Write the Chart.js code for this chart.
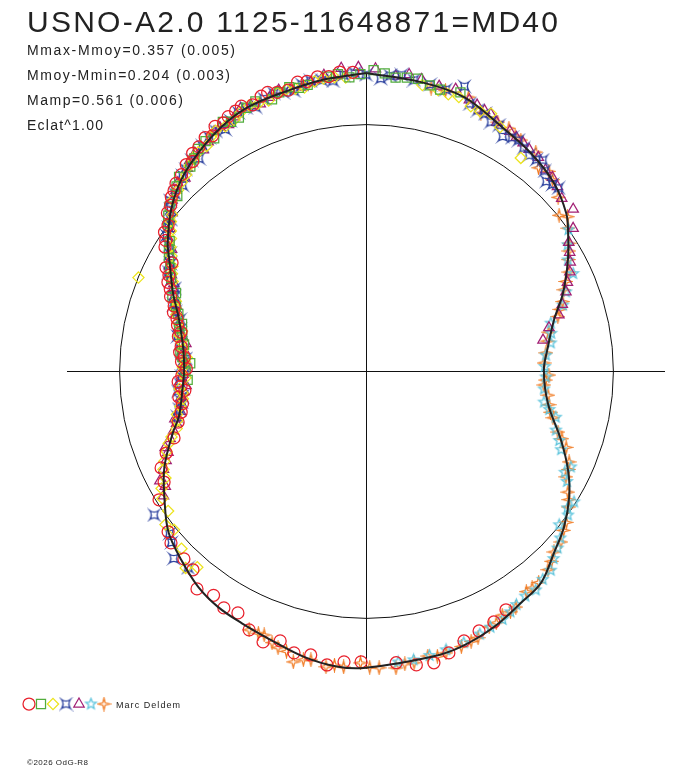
<!DOCTYPE html>
<html>
<head>
<meta charset="utf-8">
<title>USNO-A2.0 1125-11648871=MD40</title>
<script src="https://cdn.jsdelivr.net/npm/chart.js@4.4.1/dist/chart.umd.min.js"></script>
<style>
html, body { margin: 0; padding: 0; background: #fff; }
#wrap { width: 688px; height: 768px; }
</style>
</head>
<body>
<div id="wrap"><canvas id="myChart" width="688" height="768"></canvas></div>
<script>
/*global Chart*/

// texts
var titleText = "USNO-A2.0 1125-11648871=MD40";
var statLines = ["Mmax-Mmoy=0.357 (0.005)", "Mmoy-Mmin=0.204 (0.003)", "Mamp=0.561 (0.006)", "Eclat^1.00"];
var observerName = "Marc Deldem";
var creditText = "\u00a92026 OdG-R8";

// fitted light curve: phase, magnitude relative to mean
var curvePhase = [0.000,0.030,0.055,0.080,0.103,0.125,0.144,0.155,0.170,0.190,0.208,0.229,0.249,0.278,0.304,0.3225,0.338,0.356,0.3725,0.390,0.406,0.426,0.447,0.464,0.500,
    0.515,0.534,0.554,0.573,0.589,0.605,0.623,0.641,0.659,0.679,0.701,0.712,0.731,0.751,0.771,0.7925,0.811,0.832,0.841,0.860,0.8775,0.8955,0.915,0.933,0.953,0.976,1.000];
var curveMag = [-0.204,-0.190,-0.178,-0.135,-0.110,-0.080,-0.034,0.011,0.075,0.166,0.258,0.322,0.356,0.315,0.193,0.101,0.036,-0.022,-0.063,-0.116,-0.132,-0.160,-0.181,-0.187,-0.200,
    -0.201,-0.184,-0.157,-0.141,-0.131,-0.111,-0.074,-0.035,0.033,0.108,0.215,0.270,0.312,0.332,0.316,0.263,0.186,0.096,0.050,-0.026,-0.080,-0.117,-0.151,-0.171,-0.177,-0.191,-0.204];

// observation series (phase, magnitude relative to mean)
var redPhase = [0.4156,0.425,0.4347,0.4446,0.4545,0.4636,0.473,0.4836,0.5027,0.512,0.521,0.5306,0.5398,0.549,0.5578,0.5675,0.5775,0.586,0.595,0.605,
    0.614,0.6225,0.635,0.6414,0.6614,0.670,0.6797,0.688,0.6966,0.7078,0.715,0.728,0.737,0.746,0.758,0.766,0.779,0.788,0.797,0.808,
    0.817,0.826,0.838,0.846,0.857,0.866,0.874,0.886,0.893,0.904,0.912,0.921,0.930,0.942,0.951,0.963,0.974,0.986,
    0.722,0.733,0.741,0.752,0.762,0.771,0.783,0.793,0.802,0.813,0.822,0.831,0.842,0.851,0.862,0.870,0.880,0.890,0.898,0.908,
    0.917,0.926,0.936,0.946,0.957,0.968,0.980,0.993];
var redMag = [-0.124,-0.143,-0.150,-0.164,-0.189,-0.210,-0.205,-0.187,-0.178,-0.181,-0.199,-0.172,-0.178,-0.149,-0.174,-0.152,-0.112,-0.122,-0.102,-0.120,
    -0.071,-0.063,-0.056,-0.035,0.014,0.075,0.093,0.145,0.211,0.258,0.288,0.290,0.310,0.318,0.315,0.300,0.280,0.262,0.222,0.180,
    0.140,0.100,0.048,0.010,-0.030,-0.060,-0.085,-0.112,-0.130,-0.150,-0.165,-0.172,-0.185,-0.190,-0.184,-0.200,-0.205,-0.212,
    0.305,0.330,0.295,0.345,0.330,0.305,0.290,0.250,0.215,0.165,0.130,0.115,0.035,0.005,-0.040,-0.070,-0.095,-0.105,-0.135,-0.140,
    -0.160,-0.178,-0.172,-0.195,-0.180,-0.195,-0.200,-0.208];

var greenPhase = [0.742,0.757,0.765,0.773,0.781,0.790,0.802,0.812,0.821,0.833,0.843,0.852,0.861,0.869,0.878,0.887,0.897,0.908,0.917,0.926,
    0.938,0.947,0.958,0.968,0.979,0.991,0.004,0.016,0.028,0.041,0.052,
    0.750,0.762,0.786,0.797,0.808,0.827,0.838,0.856,0.873,0.892,0.903,0.921,0.932,0.952,0.963,0.985,0.997,0.010,0.022,0.035];
var greenMag = [0.352,0.368,0.305,0.320,0.300,0.285,0.225,0.200,0.145,0.090,0.052,0.000,-0.040,-0.045,-0.095,-0.095,-0.130,-0.128,-0.165,-0.150,
    -0.180,-0.165,-0.190,-0.182,-0.200,-0.190,-0.215,-0.193,-0.200,-0.178,-0.190,
    0.340,0.318,0.275,0.250,0.190,0.120,0.070,-0.020,-0.075,-0.110,-0.138,-0.150,-0.172,-0.182,-0.178,-0.205,-0.200,-0.205,-0.198,-0.185];

var yellowPhase = [0.613,0.628,0.640,0.652,0.661,0.672,0.683,0.694,0.703,0.714,0.726,0.735,0.744,0.753,0.762,0.775,0.784,0.796,0.806,0.812,
    0.819,0.829,0.840,0.849,0.858,0.872,0.882,0.891,0.902,0.911,0.923,0.934,0.945,0.956,0.966,0.977,0.989,0.031,0.046,0.060,0.072,0.100,
    0.618,0.646,0.667,0.678,0.689,0.698,0.709,0.720,0.731,0.748,0.758,0.769,0.780,0.790,0.801,0.824,0.835,0.845,0.854,0.865,
    0.877,0.887,0.896,0.907,0.917,0.928,0.939,0.951,0.961,0.972,0.983,0.040,0.052,0.066,0.080];
var yellowMag = [-0.051,-0.040,-0.010,0.020,0.030,0.090,0.120,0.175,0.240,0.262,0.312,0.300,0.340,0.325,0.345,0.300,0.295,0.240,0.215,0.004,
    0.160,0.125,0.070,0.030,-0.010,-0.060,-0.082,-0.115,-0.120,-0.150,-0.150,-0.175,-0.165,-0.185,-0.175,-0.195,-0.190,-0.180,-0.170,-0.155,-0.160,-0.070,
    -0.085,-0.025,0.050,0.100,0.150,0.200,0.255,0.290,0.315,0.320,0.335,0.318,0.285,0.260,0.225,0.140,0.095,0.050,0.005,-0.048,
    -0.072,-0.100,-0.120,-0.140,-0.145,-0.165,-0.168,-0.180,-0.178,-0.190,-0.195,-0.175,-0.172,-0.150,-0.130];

var bluePhase = [0.617,0.627,0.635,0.655,0.712,0.724,0.733,0.745,0.756,0.768,0.779,0.793,0.803,0.815,0.824,0.836,0.845,0.855,0.864,0.876,
    0.884,0.894,0.906,0.916,0.927,0.937,0.949,0.960,0.970,0.982,0.994,0.008,0.019,0.035,0.053,0.0645,0.074,0.084,0.093,0.103,0.111,0.121,0.129,
    0.640,0.718,0.728,0.739,0.750,0.761,0.773,0.785,0.798,0.809,0.819,0.830,0.840,0.850,0.860,0.869,0.880,0.890,0.900,0.911,
    0.921,0.932,0.943,0.954,0.965,0.976,0.988,0.000,0.013,0.026,0.044,0.059,0.069,0.079,0.089,0.098,0.108,0.116,0.125];
var blueMag = [-0.078,-0.091,-0.053,-0.040,0.262,0.300,0.290,0.318,0.322,0.310,0.275,0.268,0.210,0.185,0.122,0.085,0.025,0.000,-0.055,-0.060,
    -0.100,-0.098,-0.142,-0.135,-0.168,-0.160,-0.185,-0.172,-0.195,-0.182,-0.205,-0.185,-0.205,-0.188,-0.216,-0.152,-0.131,-0.103,-0.124,-0.099,-0.118,-0.063,-0.080,
    -0.035,0.280,0.312,0.305,0.335,0.340,0.298,0.282,0.232,0.200,0.148,0.110,0.062,0.012,-0.030,-0.058,-0.090,-0.112,-0.130,-0.148,
    -0.155,-0.172,-0.178,-0.178,-0.188,-0.190,-0.200,-0.198,-0.198,-0.193,-0.184,-0.162,-0.150,-0.135,-0.118,-0.110,-0.103,-0.090,-0.072];

var purplePhase = [0.662,0.672,0.683,0.692,0.702,0.711,0.721,0.732,0.741,0.752,0.763,0.774,0.786,0.798,0.809,0.818,0.828,0.839,0.850,0.859,
    0.871,0.880,0.889,0.899,0.910,0.919,0.929,0.940,0.952,0.965,0.9775,0.987,0.996,0.005,0.030,0.040,0.049,0.058,0.068,0.077,
    0.086,0.096,0.108,0.116,0.128,0.1445,0.154,0.166,0.178,0.190,0.205,0.213,0.2225,
    0.667,0.678,0.688,0.697,0.707,0.716,0.727,0.737,0.747,0.758,0.768,0.780,0.792,0.803,0.814,0.823,0.834,0.844,0.855,0.865,
    0.875,0.885,0.894,0.904,0.914,0.924,0.935,0.946,0.958,0.970,0.982,0.016,0.023,0.063,0.072,0.091,0.101,0.122,0.135,0.160,
    0.172,0.184,0.198];
var purpleMag = [0.040,0.060,0.130,0.150,0.220,0.245,0.300,0.325,0.305,0.345,0.310,0.330,0.270,0.245,0.200,0.170,0.110,0.080,0.020,-0.015,
    -0.065,-0.075,-0.115,-0.115,-0.150,-0.145,-0.178,-0.165,-0.190,-0.178,-0.207,-0.225,-0.225,-0.220,-0.200,-0.190,-0.196,-0.175,-0.160,-0.140,
    -0.135,-0.125,-0.115,-0.095,-0.080,-0.068,-0.020,0.050,0.093,0.150,0.224,0.296,0.345,
    0.070,0.100,0.155,0.190,0.248,0.285,0.300,0.340,0.325,0.330,0.325,0.300,0.255,0.225,0.178,0.140,0.090,0.040,-0.005,-0.050,
    -0.082,-0.098,-0.125,-0.130,-0.152,-0.160,-0.172,-0.175,-0.180,-0.190,-0.195,-0.198,-0.210,-0.168,-0.158,-0.128,-0.118,-0.092,-0.060,0.030,
    0.070,0.125,0.190];

var cyanPhase = [0.153,0.170,0.180,0.1986,0.2097,0.226,0.236,0.2553,0.266,0.2775,0.288,0.298,0.311,0.3197,0.330,0.3394,0.3486,0.357,0.3687,0.381,
    0.395,0.409,0.420,0.435,0.4555,0.474,0.4825,
    0.161,0.190,0.218,0.246,0.283,0.305,0.325,0.345,0.363,0.375,0.388,0.402,0.414,0.428,0.445,0.465];
var cyanMag = [0.000,0.075,0.082,0.188,0.279,0.302,0.339,0.343,0.350,0.339,0.254,0.235,0.174,0.095,0.080,0.005,-0.005,0.000,-0.060,-0.104,
    -0.125,-0.128,-0.150,-0.162,-0.175,-0.185,-0.185,
    0.040,0.150,0.290,0.350,0.300,0.200,0.110,0.015,-0.040,-0.078,-0.110,-0.120,-0.140,-0.155,-0.170,-0.180];

var orangePhase = [0.036,0.057,0.0667,0.0775,0.0847,0.094,0.105,0.112,0.123,0.133,0.142,0.152,0.1606,0.170,0.1778,0.188,0.196,0.206,0.2167,0.234,
    0.2428,0.2535,0.2625,0.271,0.279,0.289,0.299,0.308,0.317,0.3275,0.336,0.344,0.353,0.3646,0.372,0.382,0.391,0.400,0.410,0.419,
    0.4286,0.4367,0.447,0.456,0.466,0.474,0.484,0.493,0.503,0.512,0.5214,0.530,0.539,0.549,0.5586,0.5675,
    0.044,0.090,0.118,0.146,0.165,0.183,0.201,0.224,0.258,0.285,0.303,0.322,0.340,0.358,0.377,0.396,0.414,0.424,0.441,0.461,
    0.479,0.498,0.517,0.534,0.544,0.553,0.562];
var orangeMag = [-0.176,-0.184,-0.146,-0.143,-0.143,-0.129,-0.125,-0.083,-0.086,-0.052,-0.005,-0.002,0.031,0.071,0.097,0.156,0.183,0.232,0.302,0.338,
    0.354,0.326,0.353,0.322,0.307,0.269,0.221,0.154,0.113,0.095,0.052,0.012,-0.018,-0.053,-0.060,-0.095,-0.109,-0.108,-0.135,-0.135,
    -0.152,-0.172,-0.181,-0.186,-0.181,-0.196,-0.206,-0.201,-0.182,-0.200,-0.206,-0.190,-0.211,-0.176,-0.148,-0.152,
    -0.180,-0.130,-0.100,-0.030,0.050,0.130,0.210,0.320,0.345,0.290,0.190,0.100,0.030,-0.030,-0.080,-0.110,-0.140,-0.150,-0.175,-0.190,
    -0.195,-0.198,-0.196,-0.195,-0.180,-0.165,-0.150];

// phase clockwise from top, radius = relative brightness (Eclat^1)
function toXY(phases, mags) {
    return phases.map(function(p, i) {
        var f = Math.pow(10, -0.4 * mags[i]);
        var a = 2 * Math.PI * p;
        return { x: f * Math.sin(a), y: f * Math.cos(a) };
    });
}

// small outline markers the library doesn't have
function makeMarker(kind, color) {
    var c = document.createElement("canvas");
    c.width = 15; c.height = 15;
    var g = c.getContext("2d");
    g.strokeStyle = color;
    g.lineWidth = 1.25;
    g.translate(7.5, 7.5);
    g.beginPath();
    var i, a, r;
    if (kind === "astroid") {
        var s = 4.5;
        g.moveTo(-s, -s);
        g.quadraticCurveTo(0, -1.2, s, -s);
        g.quadraticCurveTo(1.2, 0, s, s);
        g.quadraticCurveTo(0, 1.2, -s, s);
        g.quadraticCurveTo(-1.2, 0, -s, -s);
    } else if (kind === "star5") {
        for (i = 0; i < 10; i++) {
            r = i % 2 === 0 ? 5.6 : 2.4;
            a = Math.PI * i / 5;
            if (i === 0) g.moveTo(r * Math.sin(a), -r * Math.cos(a));
            else g.lineTo(r * Math.sin(a), -r * Math.cos(a));
        }
    } else {
        for (i = 0; i < 8; i++) {
            r = i % 2 === 0 ? 6 : 1.7;
            a = Math.PI * i / 4;
            if (i === 0) g.moveTo(r * Math.sin(a), -r * Math.cos(a));
            else g.lineTo(r * Math.sin(a), -r * Math.cos(a));
        }
    }
    g.closePath();
    g.stroke();
    return c;
}

var series = [
    { label: "red", phase: redPhase, mag: redMag, color: "#e8202c", style: "circle", radius: 6 },
    { label: "green", phase: greenPhase, mag: greenMag, color: "#52ad3c", style: "rect", radius: 6.4 },
    { label: "yellow", phase: yellowPhase, mag: yellowMag, color: "#ece41c", style: "rectRot", radius: 5.6 },
    { label: "blue", phase: bluePhase, mag: blueMag, color: "#2f44a0", style: makeMarker("astroid", "#2f44a0"), radius: 5 },
    { label: "purple", phase: purplePhase, mag: purpleMag, color: "#a21f74", style: "triangle", radius: 6 },
    { label: "cyan", phase: cyanPhase, mag: cyanMag, color: "#5cc4dc", style: makeMarker("star5", "#5cc4dc"), radius: 5 },
    { label: "orange", phase: orangePhase, mag: orangeMag, color: "#f07a22", style: makeMarker("star4", "#f07a22"), radius: 5 }
];

var datasets = [{
    label: "fit",
    data: toXY(curvePhase, curveMag),
    showLine: true,
    borderColor: "#222",
    borderWidth: 2,
    pointRadius: 0,
    tension: 0.35,
    clip: false,
    order: 0
}];
series.forEach(function(s, i) {
    datasets.push({
        label: s.label,
        data: toXY(s.phase, s.mag),
        pointStyle: s.style,
        pointRadius: s.radius,
        pointBorderWidth: 1.25,
        pointBorderColor: s.color,
        pointBackgroundColor: "rgba(0,0,0,0)",
        showLine: false,
        clip: false,
        order: 1 + i
    });
});

function spacedText(ctx, text, x, y, size, width) {
    ctx.font = size + "px 'Liberation Sans', Arial, sans-serif";
    ctx.letterSpacing = "0px";
    var w = ctx.measureText(text).width;
    ctx.letterSpacing = ((width - w) / (text.length - 1)) + "px";
    ctx.fillText(text, x, y);
    ctx.letterSpacing = "0px";
}

var polarFrame = {
    id: "polarFrame",
    beforeDatasetsDraw: function(chart) {
        var ctx = chart.ctx, xs = chart.scales.x, ys = chart.scales.y, a = chart.chartArea;
        var cx = Math.round(xs.getPixelForValue(0)) + 0.5;
        var cy = Math.round(ys.getPixelForValue(0)) + 0.5;
        var rad = xs.getPixelForValue(1) - xs.getPixelForValue(0);
        ctx.save();
        ctx.strokeStyle = "#111";
        ctx.lineWidth = 1;
        ctx.beginPath();
        ctx.arc(cx, cy, rad, 0, 2 * Math.PI);
        ctx.stroke();
        ctx.beginPath();
        ctx.moveTo(a.left, cy); ctx.lineTo(a.right, cy);
        ctx.moveTo(cx, a.top); ctx.lineTo(cx, a.bottom);
        ctx.stroke();
        ctx.restore();
    },
    afterDraw: function(chart) {
        var ctx = chart.ctx;
        ctx.save();
        ctx.fillStyle = "#222";
        ctx.textBaseline = "alphabetic";
        spacedText(ctx, titleText, 27, 32, 30, 531);
        var widths = [208, 203, 156, 76];
        statLines.forEach(function(t, i) {
            spacedText(ctx, t, 27, 55 + 25 * i, 14, widths[i]);
        });
        // legend of symbols
        var lx = [29, 41, 53, 66, 79, 91, 104];
        series.forEach(function(s, i) {
            ctx.strokeStyle = s.color;
            ctx.fillStyle = "rgba(0,0,0,0)";
            ctx.lineWidth = 1.25;
            Chart.helpers.drawPoint(ctx, { pointStyle: s.style, radius: s.radius, borderWidth: 1.25, rotation: 0 }, lx[i], 704);
        });
        ctx.fillStyle = "#222";
        spacedText(ctx, observerName, 116, 708, 9, 64);
        spacedText(ctx, creditText, 27, 765, 8, 61);
        ctx.restore();
    }
};

var ctx = document.getElementById("myChart");
var chart = new Chart(ctx, {
    type: "scatter",
    data: { datasets: datasets },
    options: {
        responsive: false,
        animation: false,
        devicePixelRatio: 1,
        events: [],
        layout: { padding: { left: 67, right: 23, top: 73, bottom: 99 } },
        plugins: {
            legend: { display: false },
            tooltip: { enabled: false }
        },
        scales: {
            x: { type: "linear", display: false, min: -1.211, max: 1.211 },
            y: { type: "linear", display: false, min: -1.207, max: 1.207 }
        }
    },
    plugins: [polarFrame]
});
</script>
</body>
</html>
